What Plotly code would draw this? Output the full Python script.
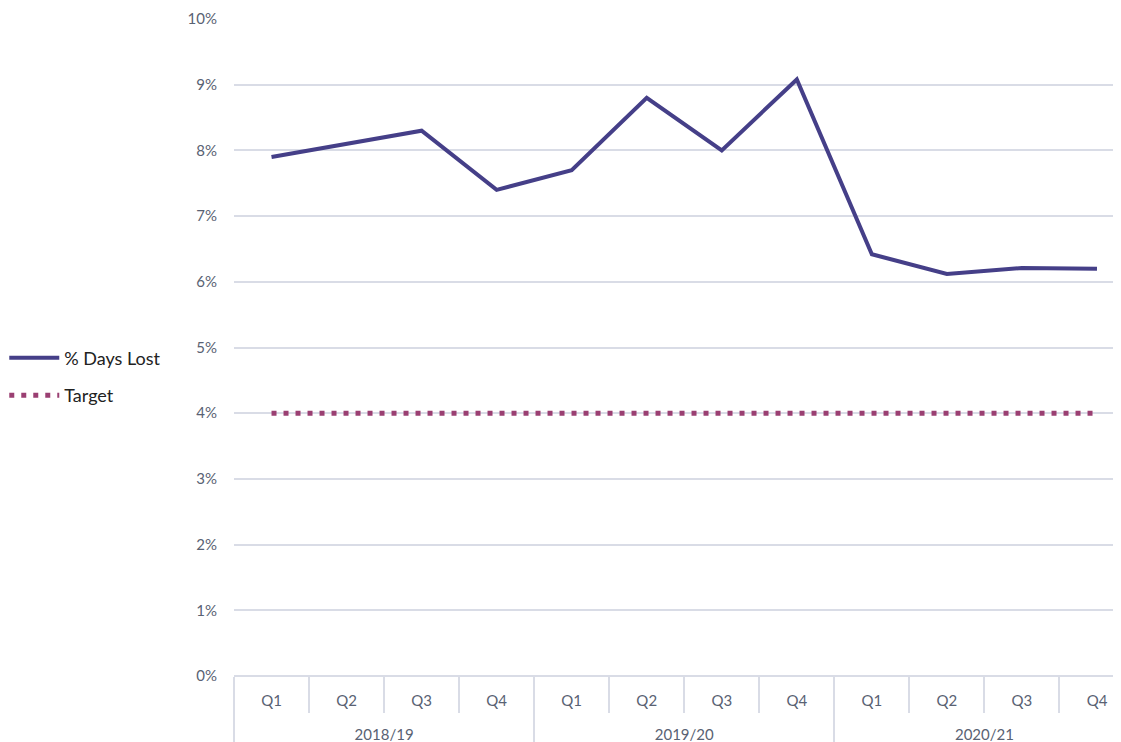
import plotly.graph_objects as go

quarters = ["Q1", "Q2", "Q3", "Q4"] * 3
years = ["2018/19", "2019/20", "2020/21"]
days_lost = [7.9, 8.1, 8.3, 7.4, 7.7, 8.8, 8.0, 9.08, 6.42, 6.12, 6.21, 6.2]
target = [4.0] * 12
yticks = [0, 1, 2, 3, 4, 5, 6, 7, 8, 9, 10]
ytick_labels = [f"{v}%" for v in yticks]

pos = list(range(len(quarters)))
year_pos = [1.5, 5.5, 9.5]
q_bounds = [i - 0.5 for i in range(len(quarters) + 1)]
y_bounds = [-0.5, 3.5, 7.5, 11.5]
xr = [-0.5, 11.32]

TXT = "#596273"
GRID = "#d9dce6"

fig = go.Figure()
fig.add_trace(go.Scatter(
    x=pos, y=days_lost, mode="lines", name="% Days Lost", legendgroup="a",
    line=dict(color="#453f88", width=4), xaxis="x", yaxis="y",
))
fig.add_trace(go.Scatter(
    x=pos, y=target, mode="lines", name="Target", legendgroup="b",
    line=dict(color="#9a3f72", width=5, dash="5px,7px"), xaxis="x2", yaxis="y",
))

fig.update_layout(
    width=1121, height=742,
    margin=dict(l=226, r=8, t=11, b=74, autoexpand=False),
    paper_bgcolor="white", plot_bgcolor="white",
    font=dict(family="Lato, 'Open Sans', sans-serif", size=15, color=TXT),
    showlegend=True,
    legend=dict(x=-0.259, y=0.512, xanchor="left", yanchor="top",
                font=dict(size=18, color="#222222"), itemwidth=50,
                tracegroupgap=11, bgcolor="rgba(0,0,0,0)"),
    xaxis=dict(
        type="linear", range=xr, automargin=False,
        tickmode="array", tickvals=pos, ticktext=quarters,
        ticks="", ticklabelstandoff=14,
        showgrid=False, zeroline=False, showline=False,
        tickfont=dict(size=15, color=TXT),
        minor=dict(tickmode="array", tickvals=q_bounds, ticks="outside",
                   ticklen=36, tickcolor=GRID, tickwidth=1.5, showgrid=False),
    ),
    xaxis2=dict(
        type="linear", range=xr, automargin=False,
        overlaying="x", anchor="y", side="bottom",
        tickmode="array", tickvals=year_pos, ticktext=years,
        ticks="", ticklabelstandoff=48,
        showgrid=False, zeroline=False, showline=False,
        tickfont=dict(size=15, color=TXT),
        minor=dict(tickmode="array", tickvals=y_bounds, ticks="outside",
                   ticklen=70, tickcolor=GRID, tickwidth=1.5, showgrid=False),
    ),
    yaxis=dict(
        range=[0, 10], tickvals=yticks, ticktext=ytick_labels,
        automargin=False,
        showgrid=True, gridcolor=GRID, gridwidth=1.5,
        zeroline=True, zerolinecolor=GRID, zerolinewidth=1.5,
        ticks="", ticklabelstandoff=16,
        tickfont=dict(size=15, color=TXT),
    ),
)

fig.write_html("out.html")
